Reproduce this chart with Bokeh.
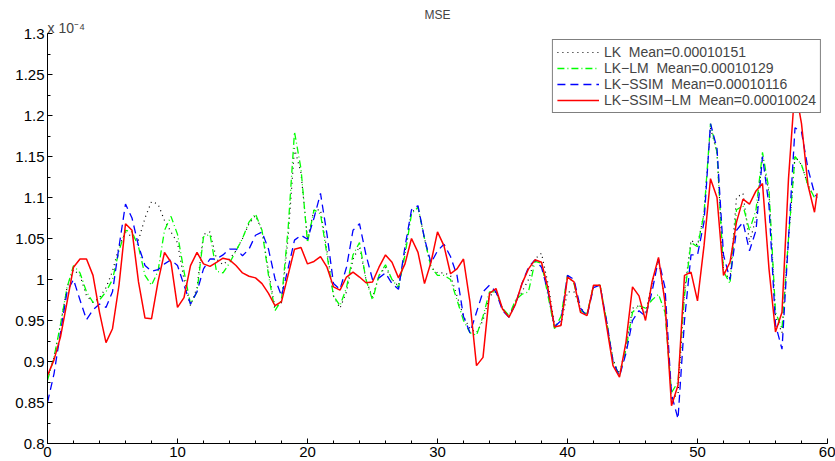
import numpy as np
from bokeh.plotting import figure
from bokeh.models import FixedTicker, NumeralTickFormatter, Title, Range1d
from bokeh.embed import file_html
from bokeh.resources import INLINE

# ---- data (MSE values in units of 1e-4) ----
FRAME = [i * 0.5 for i in range(119)] + [59.2]

LK = [0.880, 0.905, 0.945, 0.990, 1.012, 1.005, 0.980, 0.972, 0.978, 0.990, 1.010,
      1.040, 1.058, 1.052, 1.048, 1.075, 1.095, 1.092, 1.072, 1.058, 1.045,
      1.000, 0.968, 0.990, 1.055, 1.058, 1.025, 1.018, 1.025, 1.035, 1.050,
      1.068, 1.078, 1.060, 1.010, 0.965, 0.972, 1.050, 1.160, 1.130, 1.050,
      1.085, 1.085, 1.035, 0.980, 0.965, 0.985, 1.025, 1.040, 1.000, 0.978,
      1.005, 1.015, 1.000, 0.992, 1.035, 1.082, 1.088, 1.050, 1.015, 1.008,
      1.008, 1.005, 0.980, 0.955, 0.940, 0.935, 0.950, 0.980, 0.985, 0.965,
      0.955, 0.972, 0.985, 1.000, 1.025, 1.032, 0.995, 0.945, 0.945, 0.985,
      0.985, 0.965, 0.958, 0.992, 0.993, 0.950, 0.902, 0.885, 0.918, 0.965,
      0.968, 0.960, 0.995, 1.025, 0.975, 0.855, 0.860, 0.985, 1.048, 1.042,
      1.080, 1.185, 1.155, 1.010, 1.000, 1.100, 1.105, 1.045, 1.075, 1.150,
      1.105, 0.955, 0.935, 1.050, 1.150, 1.140, 1.115, 1.100, 1.100]

LK_LM = [0.877, 0.905, 0.945, 0.990, 1.017, 1.008, 0.985, 0.972, 0.975, 0.985, 1.000,
         1.035, 1.060, 1.058, 1.040, 1.005, 0.993, 1.010, 1.060, 1.077, 1.055,
         1.010, 0.970, 0.985, 1.052, 1.055, 1.010, 1.008, 1.020, 1.035, 1.050,
         1.070, 1.080, 1.060, 1.005, 0.962, 0.975, 1.060, 1.180, 1.135, 1.045,
         1.085, 1.080, 1.030, 0.980, 0.968, 0.990, 1.030, 1.045, 1.000, 0.975,
         1.005, 1.018, 1.000, 0.990, 1.030, 1.080, 1.088, 1.050, 1.015, 1.005,
         1.005, 1.000, 0.975, 0.950, 0.935, 0.932, 0.955, 0.985, 0.985, 0.965,
         0.956, 0.975, 0.982, 0.985, 1.022, 1.020, 0.980, 0.940, 0.955, 1.005,
         0.995, 0.962, 0.958, 0.992, 0.993, 0.950, 0.900, 0.883, 0.915, 0.960,
         0.968, 0.965, 0.975, 0.982, 0.960, 0.862, 0.875, 0.980, 1.045, 1.040,
         1.080, 1.190, 1.155, 1.010, 0.995, 1.085, 1.090, 1.060, 1.085, 1.155,
         1.110, 0.960, 0.940, 1.050, 1.150, 1.140, 1.115, 1.100, 1.100]

LK_SSIM = [0.850, 0.885, 0.935, 0.985, 1.000, 0.975, 0.951, 0.963, 0.970, 0.966, 0.985,
           1.040, 1.092, 1.075, 1.041, 1.017, 1.010, 1.012, 1.019, 1.024, 1.017,
           0.993, 0.970, 0.985, 1.013, 1.025, 1.025, 1.030, 1.037, 1.037, 1.029,
           1.037, 1.054, 1.058, 1.037, 1.001, 0.980, 1.013, 1.048, 1.054, 1.049,
           1.075, 1.105, 1.055, 0.995, 0.988, 1.015, 1.060, 1.068, 1.030, 1.000,
           1.002, 1.008, 0.995, 0.988, 1.040, 1.085, 1.090, 1.050, 1.020, 1.035,
           1.043, 1.028, 1.005, 0.955, 0.935, 0.960, 0.985, 0.993, 0.985, 0.962,
           0.954, 0.970, 0.995, 1.015, 1.024, 1.015, 0.985, 0.942, 0.950, 1.005,
           1.000, 0.965, 0.955, 0.990, 0.993, 0.950, 0.900, 0.882, 0.910, 0.950,
           0.962, 0.955, 0.985, 1.025, 0.990, 0.860, 0.830, 0.950, 1.030, 1.030,
           1.070, 1.190, 1.160, 1.030, 1.000, 1.060, 1.070, 1.035, 1.060, 1.150,
           1.090, 0.945, 0.915, 1.050, 1.185, 1.180, 1.135, 1.105, 1.100]

LK_SSIM_LM = [0.883, 0.902, 0.930, 0.972, 1.015, 1.025, 1.025, 1.005, 0.960, 0.923, 0.940,
              0.993, 1.068, 1.060, 0.997, 0.953, 0.952, 0.997, 1.033, 1.021, 0.966,
              0.978, 1.017, 1.033, 1.019, 1.016, 1.021, 1.026, 1.024, 1.017, 1.008,
              1.004, 1.002, 0.995, 0.983, 0.968, 0.973, 1.005, 1.037, 1.039, 1.019,
              1.022, 1.028, 1.015, 0.991, 0.987, 1.003, 1.009, 1.003, 0.996, 0.997,
              1.015, 1.030, 1.021, 1.002, 1.019, 1.050, 1.033, 0.995, 1.021, 1.058,
              1.041, 1.007, 1.013, 1.025, 0.972, 0.895, 0.905, 0.983, 0.989, 0.964,
              0.954, 0.970, 0.995, 1.013, 1.024, 1.021, 0.989, 0.942, 0.944, 1.003,
              0.997, 0.960, 0.956, 0.993, 0.993, 0.944, 0.895, 0.881, 0.924, 0.991,
              0.980, 0.950, 0.997, 1.027, 0.972, 0.846, 0.871, 1.005, 1.009, 0.974,
              1.041, 1.123, 1.100, 1.005, 1.021, 1.070, 1.098, 1.092, 1.108, 1.117,
              1.013, 0.936, 0.960, 1.123, 1.235, 1.190, 1.115, 1.082, 1.105]

SERIES_NAMES = ["LK", "LK\u2212LM", "LK\u2212SSIM", "LK\u2212SSIM\u2212LM"]
MEANS = ["0.00010151", "0.00010129", "0.00010116", "0.00010024"]

X_TICKS = [0, 10, 20, 30, 40, 50, 60]
X_MINOR = list(range(0, 61, 2))
Y_TICKS = [0.8, 0.85, 0.9, 0.95, 1.0, 1.05, 1.1, 1.15, 1.2, 1.25, 1.3]
Y_MINOR = [0.8 + 0.025 * i for i in range(21)]

FONT = "Liberation Sans"

p = figure(width=835, height=461, output_backend="svg", toolbar_location=None,
           x_range=Range1d(0, 60), y_range=Range1d(0.8, 1.3),
           min_border_left=47, min_border_right=8, min_border_top=33,
           min_border_bottom=18, title=None)

# exponent label (closest to the frame) and the title above it
p.add_layout(Title(text="x 10\u207b\u2074", align="left", text_font=FONT,
                   text_font_size="14px", text_font_style="normal", standoff=-4), "above")
p.add_layout(Title(text="MSE", align="center", text_font=FONT,
                   text_font_size="12px", text_font_style="normal", standoff=-4), "above")

p.outline_line_color = None
p.xgrid.visible = False
p.ygrid.visible = False
p.background_fill_color = "white"
p.border_fill_color = "white"

p.xaxis.ticker = FixedTicker(ticks=X_TICKS, minor_ticks=X_MINOR)
p.yaxis.ticker = FixedTicker(ticks=Y_TICKS, minor_ticks=Y_MINOR)
p.yaxis.formatter = NumeralTickFormatter(format="0.[00]")
for ax in (p.xaxis, p.yaxis):
    ax.major_tick_in = 5
    ax.major_tick_out = 0
    ax.minor_tick_in = 3
    ax.minor_tick_out = 0
    ax.axis_line_color = "black"
    ax.major_tick_line_color = "black"
    ax.minor_tick_line_color = "black"
    ax.major_label_text_font = FONT
    ax.major_label_text_font_size = "15px"
    ax.major_label_text_color = "black"
    ax.major_label_standoff = 3

styles = [
    (LK, "black", "1 4", 1.2),
    (LK_LM, "#00ff00", "7 3 1 3", 1.3),
    (LK_SSIM, "#0000ff", "8 5", 1.3),
    (LK_SSIM_LM, "#ff0000", "solid", 1.5),
]
for (ys, color, dash, w), name, mean in zip(styles, SERIES_NAMES, MEANS):
    p.line(FRAME, ys, line_color=color, line_dash=dash, line_width=w,
           legend_label=f"{name}  Mean={mean}")

lg = p.legend[0]
lg.location = "top_right"
lg.margin = 6
lg.padding = 4
lg.spacing = 0
lg.label_height = 16
lg.glyph_height = 16
lg.glyph_width = 42
lg.label_standoff = 5
lg.label_text_font = FONT
lg.label_text_font_size = "14px"
lg.border_line_color = "black"
lg.border_line_width = 1
lg.background_fill_color = "white"
lg.background_fill_alpha = 1.0

open("out.html", "w").write(file_html(p, INLINE))
